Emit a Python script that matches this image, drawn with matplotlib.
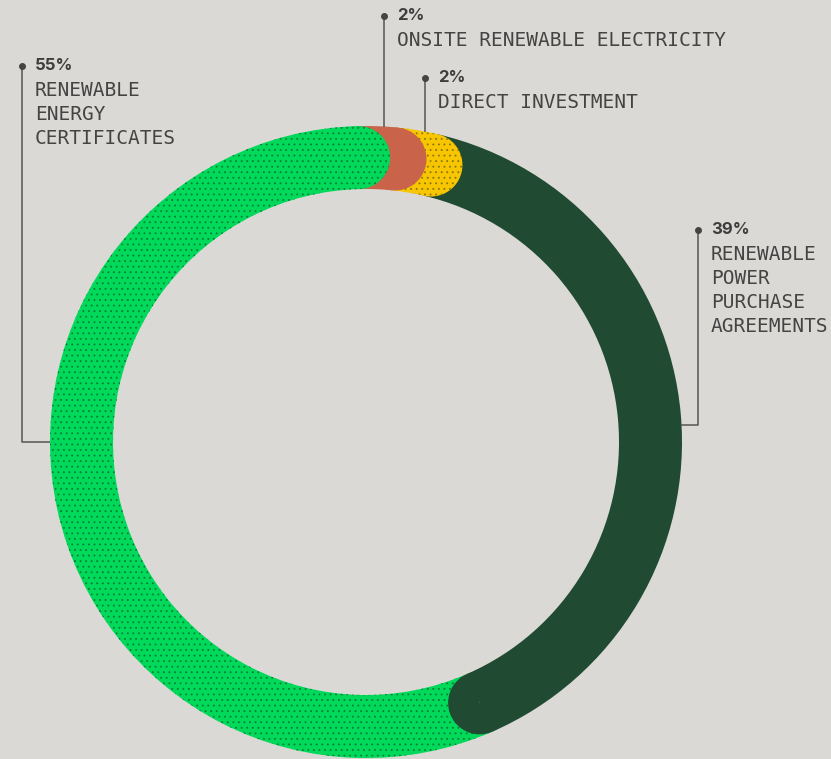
import matplotlib.pyplot as plt
from matplotlib.patches import Wedge
import numpy as np

W, H = 831, 759
BG = "#dbd9d5"
INK = "#3d3d3d"

# clockwise from the top
shares = [2, 2, 39, 55]
pct_labels = ["2%", "2%", "39%", "55%"]
names = [
    "ONSITE RENEWABLE ELECTRICITY",
    "DIRECT INVESTMENT",
    "RENEWABLE\nPOWER\nPURCHASE\nAGREEMENTS",
    "RENEWABLE\nENERGY\nCERTIFICATES",
]
colors = ["#c9644a", "#f7c600", "#214a32", "#00d95a"]
hatches = [None, "...", None, "..."]
hatch_colors = ["#c9644a", "#8a740e", "#214a32", "#077e38"]

plt.rcParams["hatch.linewidth"] = 0.6

# layout in pixel units (y measured from the top)
cx, cy = 366, 442
R, ring = 316, 63
start = 91.5

# label anchor (dot) and leader path per slice
dots = [(384, 16), (425, 78), (698, 230), (22, 66)]
leaders = [
    [(384, 16), (384, 127)],
    [(425, 78), (425, 132)],
    [(698, 230), (698, 425), (681, 425)],
    [(22, 66), (22, 442), (50, 442)],
]

fig = plt.figure(figsize=(W / 100, H / 100), dpi=100)
fig.patch.set_facecolor(BG)
ax = fig.add_axes([0, 0, 1, 1])
ax.set_facecolor(BG)


def fy(y):
    return H - y


wedges, _ = ax.pie(
    shares,
    colors=colors,
    startangle=start,
    counterclock=False,
    radius=R,
    center=(cx, fy(cy)),
    wedgeprops=dict(width=ring, linewidth=0),
)
for w, h, hc in zip(wedges, hatches, hatch_colors):
    w.set_edgecolor(hc)
    w.set_linewidth(0)
    if h:
        w.set_hatch(h)

# rounded end caps at the clockwise end of every slice; the disc reaches a
# little back into its own slice so no seam shows
ends = start - 360 * np.cumsum(shares) / sum(shares)
rc = R - ring / 2
for a, col, h, hc in zip(ends, colors, hatches, hatch_colors):
    t = np.deg2rad(a)
    cap = Wedge((cx + rc * np.cos(t), fy(cy) + rc * np.sin(t)), ring / 2,
                a - 200, a + 20, facecolor=col, edgecolor=hc, linewidth=0,
                hatch=h, zorder=3)
    ax.add_patch(cap)

# leaders and labels
for (dx, dy), path, pct, name in zip(dots, leaders, pct_labels, names):
    xs = [p[0] for p in path]
    ys = [fy(p[1]) for p in path]
    ax.plot(xs, ys, color="#555555", lw=1.1, zorder=4, solid_capstyle="butt")
    ax.plot(dx, fy(dy), "o", ms=4, color="#444444", zorder=5)
    tx = dx + 13
    ax.text(tx, fy(dy), pct, fontsize=12, fontweight="bold", family="Inter",
            color=INK, ha="left", va="center")
    for i, line in enumerate(name.split("\n")):
        ax.text(tx, fy(dy + 24 * (i + 1)), line, fontsize=14,
                family="DejaVu Sans Mono", color="#444444", ha="left",
                va="center")

ax.set_xlim(0, W)
ax.set_ylim(0, H)
ax.set_aspect("equal")
ax.axis("off")

plt.savefig("out.png", dpi=100, facecolor=BG)
